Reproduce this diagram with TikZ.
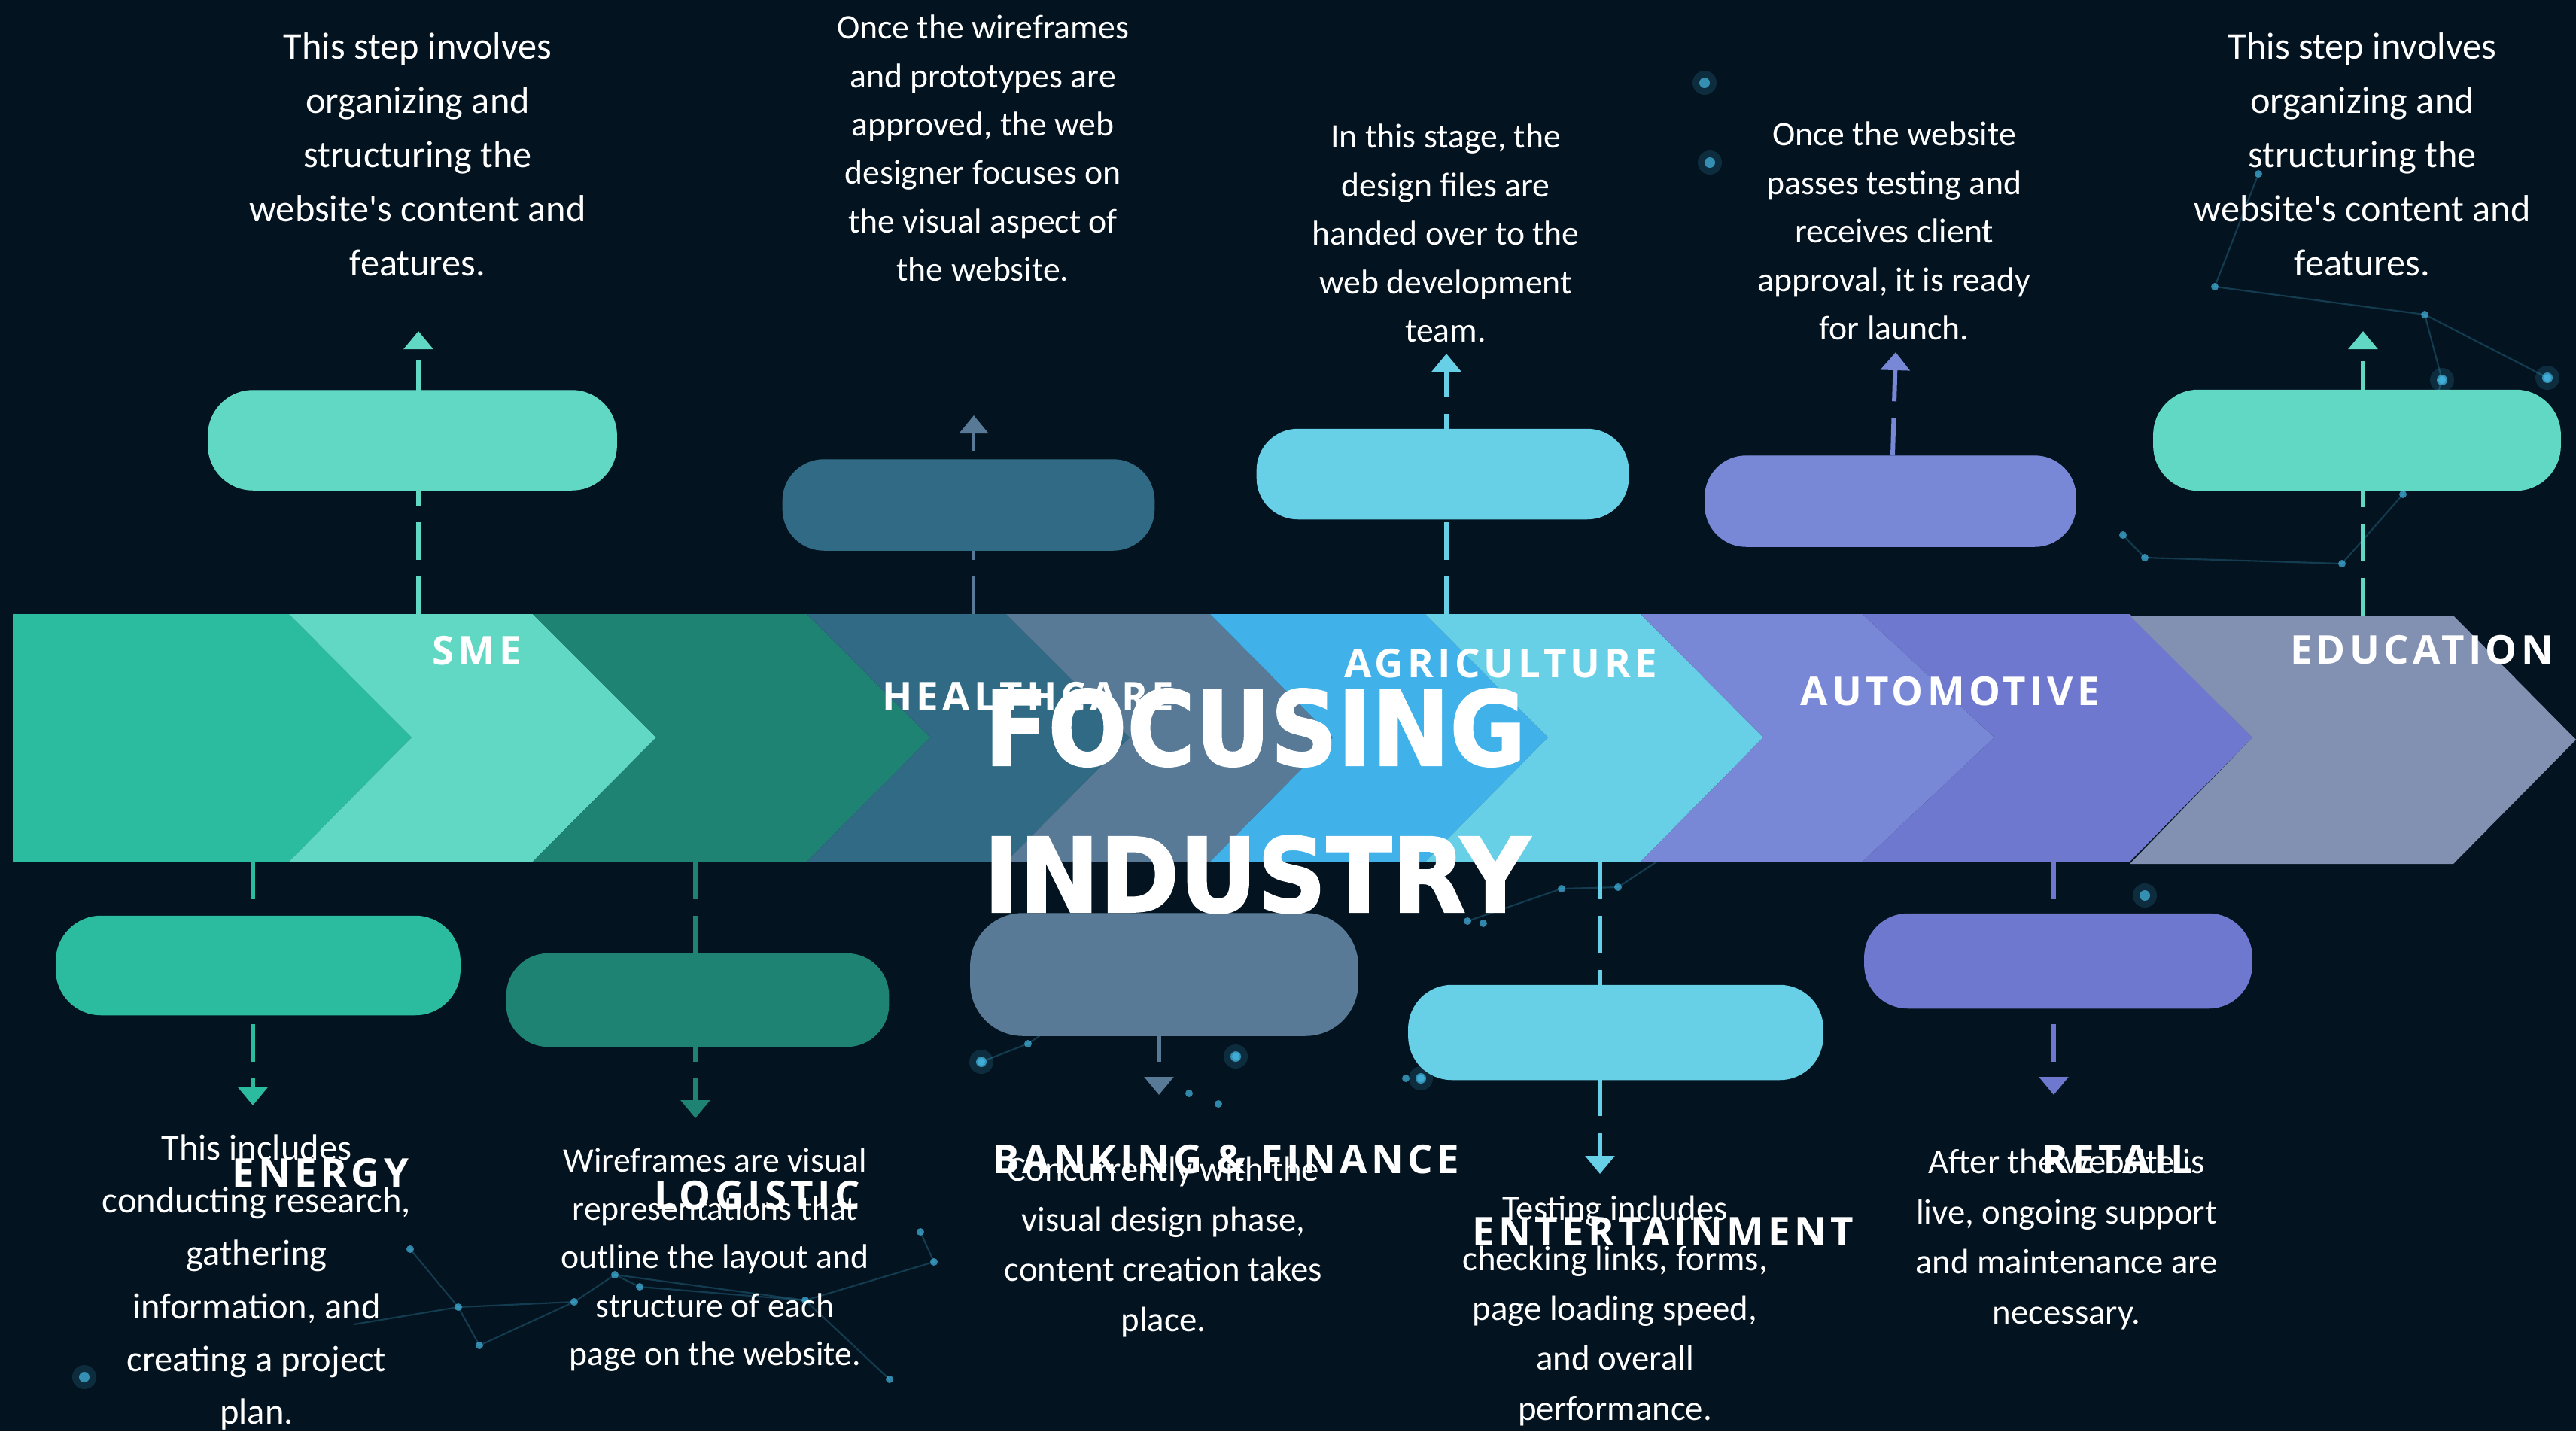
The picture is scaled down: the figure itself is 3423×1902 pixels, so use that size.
\documentclass[tikz,border=0pt]{standalone}
\usepackage{fontspec}
\setmainfont{Carlito}[Ligatures=TeXOff]
\newfontfamily\hdrfont[LetterSpace=10]{Open Sans}
\newfontfamily\ttlfont[BoldFeatures={FakeBold=1.6}]{DejaVu Sans}
\usetikzlibrary{arrows.meta}
\definecolor{bg}{HTML}{03131F}
\definecolor{cEnergy}{HTML}{2BBB9F}
\definecolor{cSme}{HTML}{61D8C4}
\definecolor{cLogi}{HTML}{1F8373}
\definecolor{cHealth}{HTML}{316A84}
\definecolor{cBank}{HTML}{587A96}
\definecolor{cBlue}{HTML}{40B1E9}
\definecolor{cCyan}{HTML}{67D0E7}
\definecolor{cPeri}{HTML}{7888D6}
\definecolor{cViolet}{HTML}{6D78CE}
\definecolor{cGray}{HTML}{8290B2}
\definecolor{cNet}{HTML}{2E7A9A}
\definecolor{cDot}{HTML}{45B9E4}
\tikzset{
  pill/.style={rectangle, inner sep=0pt, draw=none},
  conn/.style={line width=1.7pt, dash pattern=on 0.5cm off 0.22cm, -{Triangle[width=0.38cm,length=0.24cm]}},
  body/.style={text=white, align=center, inner sep=0pt},
  bodyL/.style={body, font=\fontsize{14.3}{20.5}\selectfont},
  bodyM/.style={body, font=\fontsize{13.8}{20}\selectfont},
  bodyS/.style={body, font=\fontsize{13}{18.3}\selectfont},
  bodyT/.style={body, font=\fontsize{13.3}{18.9}\selectfont},
  hdr/.style={text=white, inner sep=0pt, font=\hdrfont\bfseries\fontsize{15}{18}\selectfont},
  ttl/.style={text=white, inner sep=0pt, font=\ttlfont\bfseries\fontsize{39}{44}\selectfont},
  netline/.style={cNet, line width=0.6pt, opacity=0.4},
  netdot/.style={fill=cDot, opacity=0.7},
  glow/.style={fill=cDot, opacity=0.16}
}
\begin{document}
\begin{tikzpicture}[x=0.01cm, y=-0.01cm]
\fill[bg] (0,0) rectangle (3423,1902);
\useasboundingbox (0,0) rectangle (3423,1902);

% ---------- background network ----------
\draw[netline] (545,1660) -- (609,1737) -- (637,1788);
\draw[netline] (609,1737) -- (763,1730) -- (817,1694) -- (850,1710) -- (1070,1728) -- (1241,1677) -- (1223,1637);
\draw[netline] (763,1730) -- (637,1788);
\draw[netline] (817,1694) -- (1070,1728) -- (1182,1833);
\draw[netline] (609,1737) -- (470,1760);
\draw[netline] (1304,1411) -- (1366,1387) -- (1450,1330);
\draw[netline] (2075,1181) -- (2150,1179) -- (2300,1080);
\draw[netline] (1950,1224) -- (2075,1181);
\draw[netline] (2943,381) -- (3001,231);
\draw[netline] (2943,381) -- (3222,418) -- (3385,502);
\draw[netline] (3222,418) -- (3245,505) -- (3193,657) -- (3112,749);
\draw[netline] (2821,711) -- (2850,741) -- (3112,749);
\foreach \p in {(545,1660),(609,1737),(637,1788),(763,1730),(817,1694),(850,1710),(1070,1728),(1223,1637),(1241,1677),(1182,1833),(1304,1411),(1366,1387),(1580,1453),(1642,1404),(1619,1467),(1868,1433),(1888,1433),(1950,1224),(1971,1227),(2075,1181),(2150,1179),(2943,381),(3001,231),(3222,418),(3245,505),(3385,502),(3193,657),(3112,749),(2821,711),(2850,741)}
  \fill[netdot] \p circle (5);
\foreach \p in {(2272,216),(3245,505),(3385,502),(1642,1404),(1888,1433),(2850,1190),(1304,1411),(112,1830),(2265,110)}
  { \fill[glow] \p circle (16); \fill[netdot] \p circle (7); }

% ---------- chevron band ----------
\fill[cEnergy] (17,816) -- (384,816) -- (547,980) -- (384,1145) -- (17,1145) -- cycle;
\fill[cSme]    (384,816) -- (708,816) -- (872,980) -- (708,1145) -- (384,1145) -- (547,980) -- cycle;
\fill[cLogi]   (708,816) -- (1072,816) -- (1236,980) -- (1072,1145) -- (708,1145) -- (872,980) -- cycle;
\fill[cHealth] (1072,816) -- (1337,816) -- (1501,980) -- (1337,1145) -- (1072,1145) -- (1236,980) -- cycle;
\fill[cBank]   (1337,816) -- (1608,816) -- (1771,980) -- (1608,1145) -- (1337,1145) -- (1501,980) -- cycle;
\fill[cBlue]   (1608,816) -- (1894,816) -- (2057,980) -- (1894,1145) -- (1608,1145) -- (1771,980) -- cycle;
\fill[cCyan]   (1894,816) -- (2180,816) -- (2343,980) -- (2180,1145) -- (1894,1145) -- (2057,980) -- cycle;
\fill[cPeri]   (2180,816) -- (2475,816) -- (2650,980) -- (2475,1145) -- (2180,1145) -- (2343,980) -- cycle;
\fill[cViolet] (2475,816) -- (2830,816) -- (2993,980) -- (2830,1145) -- (2475,1145) -- (2650,980) -- cycle;
\fill[cGray]   (2830,818) -- (3260,818) -- (3423,983) -- (3260,1148) -- (2830,1148) -- (2993,980) -- cycle;

% ---------- connector anchors ----------
\coordinate (a1) at (556,816);   \coordinate (t1) at (556,440);
\coordinate (a2) at (1294,816);  \coordinate (t2) at (1294,552);
\coordinate (a3) at (1922,816);  \coordinate (t3) at (1922,470);
\coordinate (t4) at (2519,468);
\coordinate (a5) at (3140,818);  \coordinate (t5) at (3140,440);
\coordinate (a6) at (336,1145);  \coordinate (t6) at (336,1469);
\coordinate (a7) at (924,1145);  \coordinate (t7) at (924,1486);
\coordinate (a8) at (1540,1145); \coordinate (t8) at (1540,1455);
\coordinate (a9) at (2126,1145); \coordinate (t9) at (2126,1560);
\coordinate (a10) at (2729,1145); \coordinate (t10) at (2729,1455);

% ---------- pills (named nodes) ----------
\node[pill, fill=cSme,    minimum width=5.42cm, minimum height=1.32cm, rounded corners=0.6cm] (p1) at (548,585) {};
\node[pill, fill=cHealth, minimum width=4.93cm, minimum height=1.20cm, rounded corners=0.55cm] (p2) at (1287,671) {};
\node[pill, fill=cCyan,   minimum width=4.93cm, minimum height=1.19cm, rounded corners=0.55cm] (p3) at (1917,630) {};
\node[pill, fill=cPeri,   minimum width=4.92cm, minimum height=1.20cm, rounded corners=0.55cm] (p4) at (2512,666) {};
\node[pill, fill=cSme,    minimum width=5.40cm, minimum height=1.33cm, rounded corners=0.6cm] (p5) at (3132,585) {};
\node[pill, fill=cEnergy, minimum width=5.36cm, minimum height=1.31cm, rounded corners=0.6cm] (p6) at (343,1283) {};
\node[pill, fill=cLogi,   minimum width=5.07cm, minimum height=1.23cm, rounded corners=0.56cm] (p7) at (927,1329) {};
\node[pill, fill=cBank,   minimum width=5.14cm, minimum height=1.62cm, rounded corners=0.7cm] (p8) at (1547,1295) {};
\node[pill, fill=cCyan,   minimum width=5.50cm, minimum height=1.25cm, rounded corners=0.58cm] (p9) at (2147,1372) {};
\node[pill, fill=cViolet, minimum width=5.14cm, minimum height=1.25cm, rounded corners=0.58cm] (p10) at (2735,1277) {};

% ---------- connectors ----------
\draw[conn, cSme] (a1) -- (t1);
\draw[conn, cBank, line width=1.4pt] (a2) -- (t2);
\draw[conn, cCyan] (a3) -- (t3);
\draw[conn, cPeri] (p4.north) ++(3,0) -- (t4);
\draw[conn, cSme] (a5) -- (t5);
\draw[conn, cEnergy] (a6) -- (t6);
\draw[conn, cLogi] (a7) -- (t7);
\draw[conn, cBank] (a8) -- (t8);
\draw[conn, cCyan] (a9) -- (t9);
\draw[conn, cViolet] (a10) -- (t10);

% pills repainted above the connectors
\fill[cSme]    (p1.south west) [rounded corners=0.6cm] rectangle (p1.north east);
\fill[cHealth] (p2.south west) [rounded corners=0.55cm] rectangle (p2.north east);
\fill[cCyan]   (p3.south west) [rounded corners=0.55cm] rectangle (p3.north east);
\fill[cPeri]   (p4.south west) [rounded corners=0.55cm] rectangle (p4.north east);
\fill[cSme]    (p5.south west) [rounded corners=0.6cm] rectangle (p5.north east);
\fill[cEnergy] (p6.south west) [rounded corners=0.6cm] rectangle (p6.north east);
\fill[cLogi]   (p7.south west) [rounded corners=0.56cm] rectangle (p7.north east);
\fill[cBank]   (p8.south west) [rounded corners=0.7cm] rectangle (p8.north east);
\fill[cCyan]   (p9.south west) [rounded corners=0.58cm] rectangle (p9.north east);
\fill[cViolet] (p10.south west) [rounded corners=0.58cm] rectangle (p10.north east);

% ---------- description texts ----------
\node[bodyL] (d1) at (555,205) {This step involves\\organizing and\\structuring the\\website's content and\\features.};
\node[bodyS] (d2) at (1306,197) {Once the wireframes\\and prototypes are\\approved, the web\\designer focuses on\\the visual aspect of\\the website.};
\node[bodyS] (d3) at (1921,310) {In this stage, the\\design files are\\handed over to the\\web development\\team.};
\node[bodyS] (d4) at (2517,307) {Once the website\\passes testing and\\receives client\\approval, it is ready\\for launch.};
\node[bodyL] (d5) at (3139,205) {This step involves\\organizing and\\structuring the\\website's content and\\features.};
\node[bodyM] (d6) at (341,1704) {This includes\\conducting research,\\gathering\\information, and\\creating a project\\plan.};
\node[bodyS] (d7) at (950,1674) {Wireframes are visual\\representations that\\outline the layout and\\structure of each\\page on the website.};
\node[bodyT] (d8) at (1546,1657) {Concurrently with the\\visual design phase,\\content creation takes\\place.};
\node[bodyT] (d9) at (2146,1742) {Testing includes\\checking links, forms,\\page loading speed,\\and overall\\performance.};
\node[bodyT] (d10) at (2746,1647) {After the website is\\live, ongoing support\\and maintenance are\\necessary.};

% ---------- headers ----------
\node[hdr] (h1) at (634,865) {SME};
\node[hdr] (h2) at (1366,926) {HEALTHCARE};
\node[hdr] (h3) at (1994,882) {AGRICULTURE};
\node[hdr] (h4) at (2591,919) {AUTOMOTIVE};
\node[hdr] (h5) at (3218,864) {EDUCATION};
\node[hdr] (h6) at (426,1559) {ENERGY};
\node[hdr] (h7) at (1006,1589) {LOGISTIC};
\node[hdr] (h8) at (1629,1541) {BANKING \& FINANCE};
\node[hdr] (h9) at (2210,1637) {ENTERTAINMENT};
\node[hdr] (h10) at (2814,1541) {RETAIL};

% ---------- title ----------
\node[ttl] (ti1) at (1668,967) {\scalebox{0.9}[1]{FOCUSING}};
\node[ttl] (ti2) at (1670,1162) {\scalebox{0.93}[1]{INDUSTRY}};
\end{tikzpicture}
\end{document}
